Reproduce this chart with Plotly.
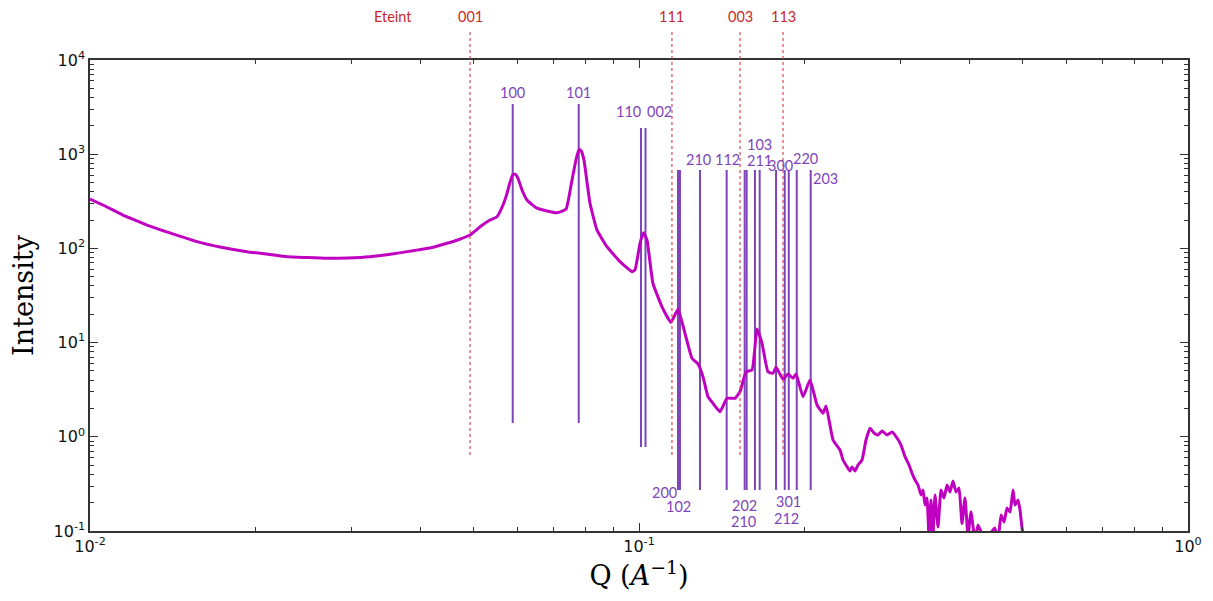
import numpy as np
import plotly.graph_objects as go

q = [0.01000, 0.01065, 0.01148, 0.01208, 0.01270, 0.01398, 0.01566, 0.01725, 0.01932, 0.02128,
     0.02285, 0.02484, 0.02702, 0.02951, 0.03236, 0.03548, 0.03877, 0.04197, 0.04470, 0.04699,
     0.04923, 0.05157, 0.05354, 0.05513, 0.05653, 0.05749, 0.05820, 0.05895, 0.05960, 0.06020,
     0.06122, 0.06252, 0.06520, 0.07089, 0.07362, 0.07460, 0.07551, 0.07677, 0.07774, 0.07850,
     0.07939, 0.08040, 0.08142, 0.08383, 0.08741, 0.09234, 0.09710, 0.09833, 0.10042, 0.10191,
     0.10341, 0.10603, 0.11013, 0.11436, 0.11776, 0.12127, 0.12488, 0.12806, 0.13077, 0.13354,
     0.13637, 0.14043, 0.14461, 0.14955, 0.15276, 0.15665, 0.16063, 0.16404, 0.16751, 0.17177,
     0.17540, 0.17768, 0.18297, 0.18685, 0.19080, 0.19321, 0.19896, 0.20490, 0.21101, 0.21638,
     0.21912, 0.22565, 0.23237, 0.23531, 0.23929, 0.24232, 0.24436, 0.24745, 0.25058, 0.25482,
     0.25913, 0.26352, 0.26798, 0.27251, 0.27712, 0.28298, 0.28898, 0.29510, 0.30010, 0.30518,
     0.31035, 0.31428, 0.31826, 0.32229, 0.32637, 0.32911, 0.33188, 0.33467, 0.33749, 0.34033,
     0.34319, 0.34608, 0.35046, 0.35490, 0.35939, 0.36394, 0.36854, 0.37321, 0.37793, 0.38271,
     0.38755, 0.39246, 0.39742, 0.40245, 0.40926, 0.41444, 0.42676, 0.44461, 0.45079, 0.45649,
     0.46227, 0.46812, 0.47405, 0.48005, 0.48409, 0.49022, 0.49434, 0.49850, 0.50270]
intensity = [334, 282, 226, 200, 177, 146, 118, 103.5, 92.3, 86.1,
             81.6, 79.9, 78.5, 79.1, 81.6, 87.2, 94.5, 102.2, 113.3, 124.3,
             138.8, 172.9, 200, 217, 289, 384, 500, 612, 610, 555,
             417, 326, 267, 239, 260, 360, 532, 868, 1127, 1080,
             868, 507, 301, 157, 104.2, 72.3, 56.6, 59.0, 113.3, 146.8,
             122.8, 42.6, 24.0, 16.4, 22.6, 12.55, 6.81, 5.93, 4.35, 2.665,
             2.268, 1.847, 2.563, 2.563, 3.012, 4.91, 5.12, 13.94, 9.83, 4.91,
             4.72, 5.47, 4.08, 4.64, 4.18, 4.64, 2.665, 4.01, 2.176, 1.776,
             2.123, 0.925, 0.724, 0.567, 0.4816, 0.4335, 0.478, 0.4335, 0.502, 0.567,
             0.925, 1.231, 1.097, 1.045, 1.152, 1.045, 1.124, 0.971, 0.818, 0.615,
             0.502, 0.4097, 0.3478, 0.3079, 0.2410, 0.2724, 0.1888, 0.2240, 0.085, 0.2134,
             0.09, 0.2410, 0.11, 0.2724, 0.2240, 0.3079, 0.2594, 0.3395, 0.2594, 0.2861,
             0.12, 0.2240, 0.09, 0.1591, 0.08, 0.1158, 0.08, 0.1076, 0.08, 0.1479,
             0.1246, 0.1754, 0.1591, 0.2724, 0.1888, 0.2134, 0.1670, 0.1076, 0.08]

# ---- reflections (purple) ----
refl_hkl = ['100', '101', '110', '002', '200', '102', '210', '112', '202', '210',
            '103', '211', '300', '301', '212', '220', '203']
refl_q = [0.05888, 0.07767, 0.10084, 0.10276, 0.11776, 0.11875, 0.12915, 0.14444, 0.15577, 0.15708,
          0.16264, 0.16588, 0.17768, 0.18428, 0.18740, 0.19379, 0.20548]
refl_top = [3411, 3411, 1897, 1897, 680, 680, 680, 680, 680, 680,
            680, 680, 680, 680, 680, 680, 680]
refl_bottom = [1.40, 1.40, 0.779, 0.779, 0.2724, 0.2724, 0.2724, 0.2724, 0.2724, 0.2724,
               0.2724, 0.2724, 0.2724, 0.2724, 0.2724, 0.2724, 0.2724]

# ---- extinct reflections (red) ----
ext_title = 'Eteint'
ext_hkl = ['001', '111', '003', '113']
ext_q = [0.04923, 0.11482, 0.15276, 0.18297]

# ---- axes ----
x_tickvals = [0.01, 0.1, 1]
x_ticktext = ['10<sup>-2</sup>', '10<sup>-1</sup>', '10<sup>0</sup>']
y_tickvals = [0.1, 1, 10, 100, 1000, 10000]
y_ticktext = ['10<sup>-1</sup>', '10<sup>0</sup>', '10<sup>1</sup>', '10<sup>2</sup>',
              '10<sup>3</sup>', '10<sup>4</sup>']

# label placement (end of line, dx px, dy px) -- style only
label_pos = [('top', 0, -12), ('top', 0, -12), ('top', -12, -17), ('top', 14, -17),
             ('bottom', -13, 2), ('bottom', -1, 16), ('top', -1, -10), ('top', 1, -10),
             ('bottom', 0, 15), ('bottom', -3, 31), ('top', 5, -25), ('top', 0, -9),
             ('top', 4, -4), ('bottom', 4, 11), ('bottom', -2, 28), ('top', 9, -11),
             ('top', 15, 9)]

PURPLE = '#7d45b9'
RED = '#c82828'
RED_LINE = '#e04848'
MAG = '#c000c0'
AX = '#333333'

fig = go.Figure()

lx, ly = [], []
for qq, t, b in zip(refl_q, refl_top, refl_bottom):
    lx += [qq, qq, None]
    ly += [b, t, None]
fig.add_trace(go.Scatter(x=lx, y=ly, mode='lines', line=dict(color=PURPLE, width=2),
                         hoverinfo='skip', showlegend=False))

fig.add_trace(go.Scatter(x=q, y=intensity, mode='lines',
                         line=dict(color=MAG, width=3, shape='spline', smoothing=0.4),
                         showlegend=False))

# invisible trace so the minor-tick overlay axes are drawn
fig.add_trace(go.Scatter(x=[q[0]], y=[intensity[0]], xaxis='x2', yaxis='y2', mode='markers',
                         marker=dict(opacity=0), hoverinfo='skip', showlegend=False))

shapes = []
for qq in ext_q:
    shapes.append(dict(type='line', xref='x', yref='paper', x0=qq, x1=qq, y0=0.1614, y1=1.0616,
                       line=dict(color=RED_LINE, width=1.2, dash='3px,3px'), layer='above'))

annotations = []
lab_font = dict(family='Lato, Open Sans, sans-serif', size=14.5, color=PURPLE)
for hkl, qq, t, b, (end, dx, dy) in zip(refl_hkl, refl_q, refl_top, refl_bottom, label_pos):
    yv = t if end == 'top' else b
    annotations.append(dict(x=np.log10(qq), y=np.log10(yv), xref='x', yref='y', text=hkl,
                            showarrow=False, xanchor='center', yanchor='middle',
                            xshift=dx, yshift=-dy, font=lab_font))
red_font = dict(family='Lato, Open Sans, sans-serif', size=14.5, color=RED)
for hkl, qq in zip(ext_hkl, ext_q):
    annotations.append(dict(x=np.log10(qq), y=1.0934, xref='x', yref='paper', text=hkl,
                            showarrow=False, xanchor='center', yanchor='middle', font=red_font))
annotations.append(dict(x=0.276, y=1.0934, xref='paper', yref='paper', text=ext_title,
                        showarrow=False, xanchor='center', yanchor='middle', font=red_font))

minor_x = [m * 10.0 ** e for e in (-2, -1) for m in range(2, 10)]
minor_y = [m * 10.0 ** e for e in (-1, 0, 1, 2, 3) for m in range(2, 10)]

axis_common = dict(type='log', showgrid=False, zeroline=False, showline=True, linecolor=AX,
                   linewidth=1.5, mirror='ticks', ticks='inside', ticklen=8, tickcolor=AX,
                   tickwidth=1,
                   tickfont=dict(family='DejaVu Sans', size=16, color='#111111'))
minor_common = dict(type='log', showgrid=False, zeroline=False, showline=False,
                    mirror='ticks', ticks='inside', ticklen=4, tickcolor=AX, tickwidth=1,
                    showticklabels=False, tickmode='array')

# page body has an 8px margin; plot area placed at x 90-1188, y 60-531 of the window
fig.update_layout(
    width=1213, height=601,
    margin=dict(l=82, r=33, t=52, b=78),
    paper_bgcolor='white', plot_bgcolor='white',
    xaxis=dict(range=[-2, 0], tickmode='array', tickvals=x_tickvals, ticktext=x_ticktext,
               title=dict(text='Q (<i>A</i><sup>−1</sup>)', standoff=10,
                          font=dict(family='DejaVu Serif', size=27, color='black')),
               **axis_common),
    yaxis=dict(range=[-1, 4], tickmode='array', tickvals=y_tickvals, ticktext=y_ticktext,
               title=dict(text='Intensity', standoff=12,
                          font=dict(family='DejaVu Serif', size=27, color='black')),
               **axis_common),
    xaxis2=dict(range=[-2, 0], overlaying='x', anchor='y2', side='bottom', tickvals=minor_x,
                **minor_common),
    yaxis2=dict(range=[-1, 4], overlaying='y', anchor='x2', side='left', tickvals=minor_y,
                **minor_common),
    shapes=shapes,
    annotations=annotations,
)

fig.write_html('out.html')
